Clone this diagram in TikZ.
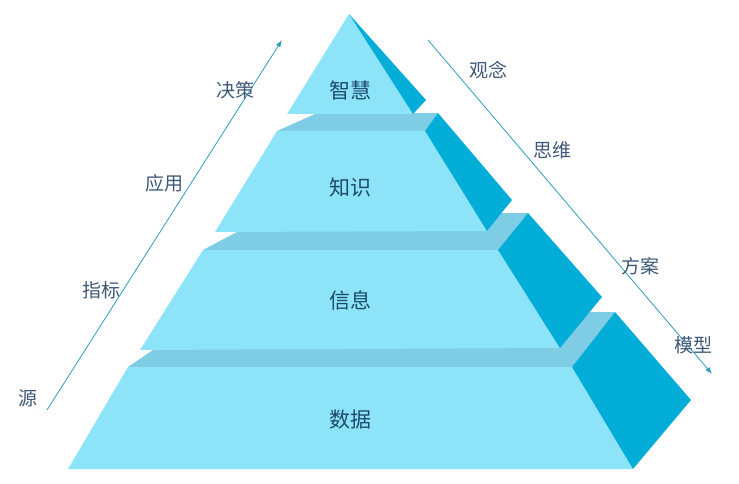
\documentclass[tikz,border=0pt]{standalone}
\usepackage{fontspec}
\newfontfamily\cjk{Noto Sans CJK SC}
\begin{document}
\begin{tikzpicture}[x=1pt,y=-1pt,
  front/.style={fill=frontc,draw=none},
  ledge/.style={fill=ledgec,draw=none},
  side/.style={fill=sidec,draw=none},
  tier/.style={font=\cjk\fontsize{21}{21}\selectfont,text=tiertxt},
  lab/.style={font=\cjk\fontsize{19}{19}\selectfont,text=labtxt},
  arr/.style={draw=arrc,line width=0.8pt,-{Latex[length=7pt,width=5pt]}}]
\usetikzlibrary{arrows.meta}
\definecolor{frontc}{HTML}{8DE4F9}
\definecolor{ledgec}{HTML}{7ECDE4}
\definecolor{sidec}{HTML}{02ADD8}
\definecolor{tiertxt}{HTML}{1E4A6E}
\definecolor{labtxt}{HTML}{3E5877}
\definecolor{arrc}{HTML}{2D9CBF}
\useasboundingbox (0,0) rectangle (739,484);
% tier 4
\fill[ledge] (153,350) -- (540,312) -- (615,312) -- (572,367) -- (128,367) -- cycle;
\fill[front] (128,367) -- (572,367) -- (633,469) -- (68,469) -- cycle;
\fill[side] (572,367) -- (615,312) -- (691,400) -- (633,469) -- cycle;
% tier 3
\fill[ledge] (237,232) -- (470,213) -- (528,213) -- (498,250) -- (203,250) -- cycle;
\fill[front] (203,250) -- (498,250) -- (560,348) -- (140,350) -- cycle;
\fill[side] (498,250) -- (528,213) -- (602,297) -- (560,348) -- cycle;
% tier 2
\fill[ledge] (315,114) -- (438,113) -- (425,131) -- (277,131) -- cycle;
\fill[front] (277,131) -- (425,131) -- (487,231) -- (215,232) -- cycle;
\fill[side] (425,131) -- (438,113) -- (512,200) -- (487,231) -- cycle;
% tier 1
\fill[front] (349,14) -- (413,114) -- (287,114) -- cycle;
\fill[side] (349,14) -- (426,100) -- (413,114) -- cycle;
% tier labels
\node[tier] (t1) at (350,90) {智慧};
\node[tier] (t2) at (350,187) {知识};
\node[tier] (t3) at (350,300) {信息};
\node[tier] (t4) at (350,420) {数据};
% arrows
\coordinate (la) at (47,410);
\coordinate (lb) at (282,40);
\coordinate (ra) at (428,40);
\coordinate (rb) at (712,374);
\draw[arr] (la) -- (lb);
\draw[arr] (ra) -- (rb);
% side labels
\node[lab] (l1) at (235,90) {决策};
\node[lab] (l2) at (164,183) {应用};
\node[lab] (l3) at (101,290) {指标};
\node[lab] (l4) at (28,398) {源};
\node[lab] (r1) at (488,70) {观念};
\node[lab] (r2) at (552,150) {思维};
\node[lab] (r3) at (640,266) {方案};
\node[lab] (r4) at (693,345) {模型};
\end{tikzpicture}
\end{document}
